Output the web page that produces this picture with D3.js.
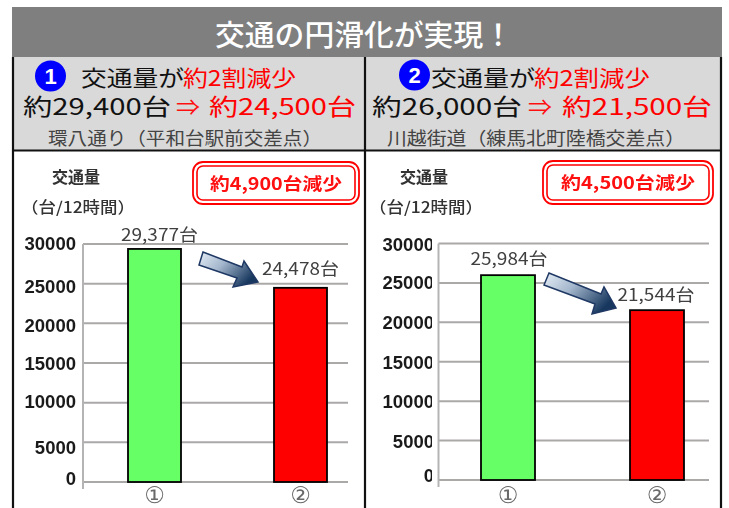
<!DOCTYPE html>
<html><head><meta charset="utf-8">
<script src="https://cdn.jsdelivr.net/npm/d3@7"></script>
<style>html,body{margin:0;padding:0;background:#fff}svg{display:block;filter:blur(0.35px)}
text{font-family:"Noto Sans CJK JP","Noto Sans",sans-serif}</style></head>
<body><svg id="c" width="729" height="508"></svg>
<script>
const categories = ["①", "②"];
const seriesLeft = [29377, 24478];
const seriesRight = [25984, 21544];
const valueLabelsLeft = ["29,377台", "24,478台"];
const valueLabelsRight = ["25,984台", "21,544台"];
const tickValues = [0, 5000, 10000, 15000, 20000, 25000, 30000];
const barColors = ["#66ff66", "#ff0000"];
const title = "交通の円滑化が実現！";

const svg = d3.select("#c");
const defs = svg.append("defs");
const grad = defs.append("linearGradient").attr("id","ag").attr("x1","0").attr("y1","0").attr("x2","1").attr("y2","0.55");
grad.append("stop").attr("offset","0").attr("stop-color","#e6eef6");
grad.append("stop").attr("offset","0.45").attr("stop-color","#a3b6cc");
grad.append("stop").attr("offset","1").attr("stop-color","#17375e");
defs.append("clipPath").attr("id","rc").append("rect").attr("x",-64).attr("y",225).attr("width",62).attr("height",270);

// header
svg.append("rect").attr("x",12).attr("y",7).attr("width",710).attr("height",50).attr("fill","#7f7f7f");
svg.append("text").attr("x",364).attr("y",46).attr("text-anchor","middle").attr("fill","#fff")
  .attr("font-size",29).attr("font-weight",500).attr("textLength",298).attr("lengthAdjust","spacingAndGlyphs").text(title);
svg.append("rect").attr("x",13).attr("y",57).attr("width",708).attr("height",93).attr("fill","#d9d9d9");
// frame
const frame = [[13,57,13,508],[365,57,365,508],[721,57,721,508],[12,150.5,722,150.5]];
svg.selectAll("line.f").data(frame).join("line").attr("class","f")
  .attr("x1",d=>d[0]).attr("y1",d=>d[1]).attr("x2",d=>d[2]).attr("y2",d=>d[3])
  .attr("stroke","#111").attr("stroke-width",2.2);

function txt(x,y,s,size,fill,len,weight){
  const t = svg.append("text").attr("x",x).attr("y",y).attr("font-size",size).attr("fill",fill);
  if(weight) t.attr("font-weight",weight);
  if(len) t.attr("textLength",len).attr("lengthAdjust","spacingAndGlyphs");
  t.text(s); return t;
}
function badge(cx,cy,r,s){
  svg.append("circle").attr("cx",cx).attr("cy",cy).attr("r",r).attr("fill","#0000ff");
  svg.append("text").attr("x",cx).attr("y",cy+8).attr("text-anchor","middle").attr("fill","#fff")
    .attr("font-size",22).attr("font-weight",700).style("font-family","'Liberation Sans'").text(s);
}
badge(50.5,76,15.5,"1");
badge(414.5,75,15.5,"2");
txt(81,86,"交通量が",22,"#111",103,400);
txt(183,86,"約2割減少",22,"#ff0000",113,400);
txt(23,115,"約29,400台",23,"#111",148,400);
txt(176,115,"⇒",22,"#ff1010",24);
txt(209,115,"約24,500台",23,"#ff0000",147,400);
txt(48,144.5,"環八通り（平和台駅前交差点）",18,"#444",274);
txt(431,86,"交通量が",22,"#111",104,400);
txt(534,86,"約2割減少",22,"#ff0000",116,400);
txt(372,115,"約26,000台",23,"#111",150,400);
txt(528,115,"⇒",22,"#ff1010",24);
txt(562,115,"約21,500台",23,"#ff0000",150,400);
txt(387,144.5,"川越街道（練馬北町陸橋交差点）",18,"#444",298);

function chart(o){
  const y = d3.scaleLinear().domain([0,30000]).range([o.y0,o.y1]);
  const x = d3.scalePoint().domain(categories).range(o.centers);
  const g = svg.append("g");
  const axis = d3.axisLeft(y).tickValues(tickValues).tickSize(0).tickFormat(d3.format("d"));
  const grid = g.append("g");
  grid.selectAll("line").data(tickValues).join("line")
    .attr("x1",o.ax).attr("x2",o.gx).attr("y1",d=>y(d)).attr("y2",d=>y(d))
    .attr("stroke","#aba8a8").attr("stroke-width",2);
  g.append("line").attr("x1",o.ax).attr("x2",o.ax).attr("y1",o.y1).attr("y2",o.y0+7)
    .attr("stroke","#b4b4b4").attr("stroke-width",2);
  const a = g.append("g").attr("transform",`translate(${o.lx},0)`).call(axis);
  a.select(".domain").remove();
  if(o.clip) a.selectAll(".tick").each(function(){
    const t = d3.select(this), tr = t.attr("transform");
    const m = /translate\(([^,]+),([^)]+)\)/.exec(tr);
    t.attr("transform",null);
    t.select("text").attr("transform",`translate(${m[1]},${m[2]})`);
  });
  if(o.clip) a.attr("clip-path","url(#rc)");
  a.selectAll("text").style("font-family","'Liberation Sans'").attr("font-size",18.5).attr("font-weight",700)
    .attr("fill","#1a1a1a").attr("x",0).attr("dy",null).attr("dominant-baseline","central")
    .attr("y",d=>o.off[tickValues.indexOf(d)]);
  g.selectAll("rect.b").data(o.values).join("rect").attr("class","b")
    .attr("x",(d,i)=>x(categories[i])-o.w/2).attr("width",o.w)
    .attr("y",d=>y(d)).attr("height",d=>y(0)-y(d))
    .attr("fill",(d,i)=>barColors[i]).attr("stroke","#000").attr("stroke-width",1.8);
  g.selectAll("text.v").data(o.values).join("text").attr("class","v")
    .attr("x",(d,i)=>x(categories[i])+o.lshift[i]).attr("y",(d,i)=>y(d)-o.ldy[i])
    .attr("text-anchor","middle").attr("font-size",17).attr("fill","#404040")
    .attr("textLength",77).attr("lengthAdjust","spacingAndGlyphs").text((d,i)=>o.labels[i]);
  g.selectAll("text.c").data(categories).join("text").attr("class","c")
    .attr("x",d=>x(d)).attr("y",502.5).attr("text-anchor","middle").attr("font-size",23).attr("fill","#6a6a6a")
    .style("font-family","'DejaVu Sans'").text(d=>d);
  g.append("polygon").attr("points",o.arrow.map(p=>p.join(",")).join(" "))
    .attr("fill","url(#ag)").attr("stroke","#1f3864").attr("stroke-width",1.5);
  // unit labels
  txt(o.unit[0],183,"交通量",16,"#333",null,700);
  txt(o.unit[1],212.5,"（台/12時間）",15.5,"#333",o.unit[2],500);
  // callout
  const b=o.box;
  svg.append("rect").attr("x",b[0]).attr("y",b[1]).attr("width",b[2]).attr("height",b[3]).attr("rx",10).attr("fill","#fff").attr("stroke","#ff0000").attr("stroke-width",1.8);
  svg.append("rect").attr("x",b[0]+4).attr("y",b[1]+4).attr("width",b[2]-8).attr("height",b[3]-8).attr("rx",6).attr("fill","none").attr("stroke","#ff0000").attr("stroke-width",1.6);
  svg.append("text").attr("x",b[0]+b[2]/2).attr("y",b[1]+28).attr("text-anchor","middle").attr("fill","#ff1010")
    .attr("font-size",17).attr("font-weight",700).attr("textLength",b[4]).attr("lengthAdjust","spacingAndGlyphs").text(o.boxText);
}
chart({y0:482,y1:244,centers:[154.5,300.5],ax:83,gx:348,lx:76,w:53,values:seriesLeft,labels:valueLabelsLeft,
  lshift:[5,0],ldy:[8,13],off:[-4,5,-2,0,2,2,-1],
  arrow:[[203,252],[199,265],[237,278],[233,287],[258,282],[244,261],[242,267]],
  unit:[52,21,114],box:[193,162,166,42,132],boxText:"約4,900台減少"});
chart({y0:480,y1:243.5,centers:[508,657],ax:438.5,gx:709,lx:434,w:54,values:seriesRight,labels:valueLabelsRight,clip:true,
  lshift:[1,-1],ldy:[10,9],off:[-5,0,0,0,0,-1,0],
  arrow:[[549,273],[544,285],[595,304],[592,314],[616,308],[604,287],[601,294]],
  unit:[400,369,114],box:[543,161,170,43,134],boxText:"約4,500台減少"});
</script></body></html>
